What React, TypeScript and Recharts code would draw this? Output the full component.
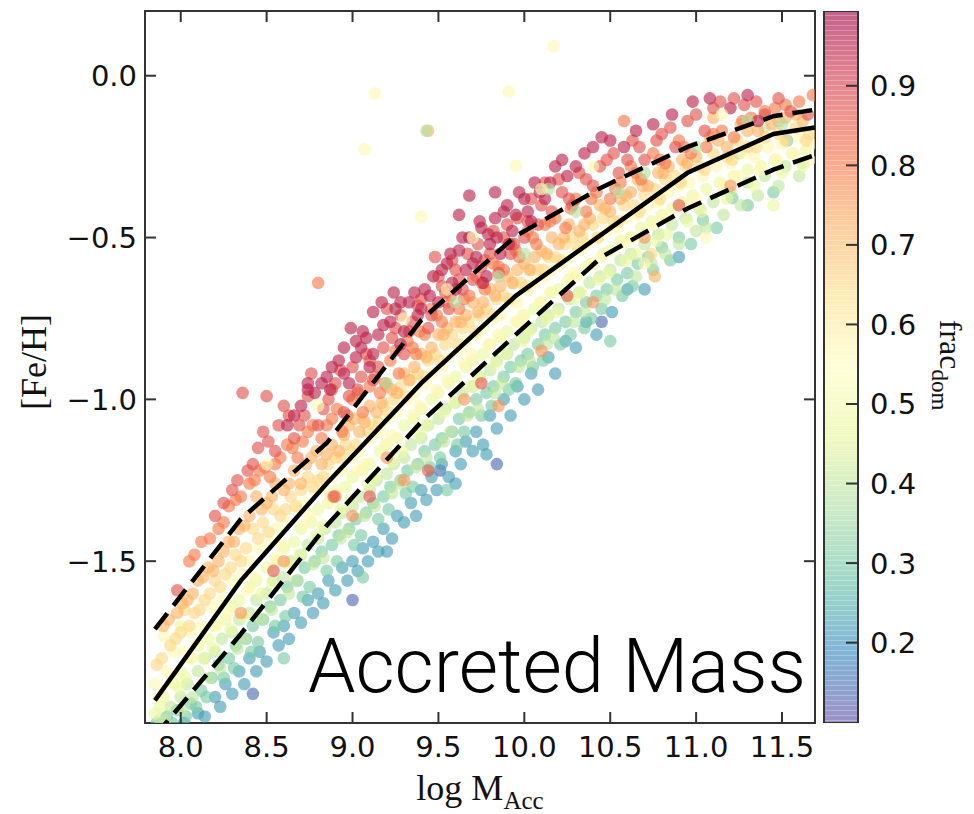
import React from "react";
import { ScatterChart, Scatter, XAxis, YAxis, Label, BarChart, Bar, ReferenceArea } from "recharts";

// axis ranges
const X_MIN = 7.792;
const X_MAX = 11.692;
const Y_MIN = -2.0;
const Y_MAX = 0.2;
const CB_MIN = 0.099;
const CB_MAX = 0.994;

const xTicks = [8.0, 8.5, 9.0, 9.5, 10.0, 10.5, 11.0, 11.5];
const yTicks = [-1.5, -1.0, -0.5, 0.0];
const cbTicks = [0.2, 0.3, 0.4, 0.5, 0.6, 0.7, 0.8, 0.9];

// running median and the two percentile curves
const lineX = [7.85, 8.35, 8.85, 9.4, 9.95, 10.45, 10.95, 11.45, 11.69];
const medianY = [-1.93, -1.56, -1.26, -0.95, -0.68, -0.49, -0.3, -0.18, -0.16];
const upperY = [-1.71, -1.37, -1.135, -0.755, -0.495, -0.345, -0.22, -0.125, -0.105];
const lowerY = [-2.04, -1.725, -1.39, -1.07, -0.8, -0.56, -0.41, -0.29, -0.245];

// scatter points, grouped by fracC_dom level
const purplePts = [[8.42, -1.91], [9.84, -1.2], [9.51, -1.22], [10.45, -0.76], [9.0, -1.62]];
const bluePts = [[8.02, -2.0], [8.1, -1.97], [8.2, -1.92], [8.26, -1.88], [8.34, -1.84], [8.4, -1.8], [8.46, -1.78], [8.54, -1.72], [8.6, -1.7], [8.66, -1.66], [8.74, -1.62], [8.8, -1.6], [8.86, -1.56], [8.94, -1.52], [9.0, -1.5], [9.06, -1.46], [9.12, -1.44], [9.18, -1.4], [9.2, -1.47], [9.26, -1.36], [9.34, -1.32], [9.4, -1.28], [9.46, -1.24], [9.52, -1.2], [9.6, -1.16], [9.66, -1.13], [9.72, -1.1], [9.8, -1.05], [9.88, -1.0], [9.96, -0.96], [10.04, -0.92], [10.14, -0.87], [10.24, -0.82], [10.36, -0.76], [10.6, -0.66], [10.9, -0.56]];
const bluePts2 = [[8.14, -1.98], [8.23, -1.95], [8.3, -1.91], [8.37, -1.88], [8.44, -1.84], [8.5, -1.81], [8.57, -1.76], [8.63, -1.74], [8.7, -1.69], [8.77, -1.66], [8.83, -1.63], [8.9, -1.59], [8.97, -1.56], [9.03, -1.53], [9.09, -1.5], [9.15, -1.47], [9.23, -1.43], [9.3, -1.38], [9.37, -1.36], [9.43, -1.31], [9.49, -1.28], [9.56, -1.24], [9.63, -1.2], [9.7, -1.16], [9.76, -1.14], [9.84, -1.09], [9.92, -1.05], [10.0, -1.0], [10.08, -0.97], [10.18, -0.92], [10.3, -0.84], [10.42, -0.8], [10.51, -0.73], [10.7, -0.66], [9.78, -1.17], [9.6, -1.26]];
const tealPts = [[7.86, -2.0], [7.92, -1.98], [7.98, -1.96], [8.06, -1.94], [8.12, -1.9], [8.18, -1.86], [8.22, -1.82], [8.28, -1.8], [8.32, -1.76], [8.38, -1.74], [8.42, -1.7], [8.48, -1.68], [8.52, -1.64], [8.58, -1.62], [8.62, -1.58], [8.68, -1.56], [8.72, -1.52], [8.78, -1.5], [8.82, -1.47], [8.88, -1.45], [8.92, -1.42], [8.98, -1.4], [9.02, -1.37], [9.08, -1.35], [9.12, -1.32], [9.18, -1.3], [9.22, -1.27], [9.28, -1.25], [9.32, -1.22], [9.38, -1.2], [9.42, -1.16], [9.48, -1.14], [9.52, -1.12], [9.58, -1.1], [9.62, -1.06], [9.68, -1.04], [9.72, -1.0], [9.78, -0.98], [9.82, -0.96], [9.88, -0.93], [9.92, -0.9], [9.98, -0.88], [10.02, -0.86], [10.08, -0.83], [10.12, -0.8], [10.18, -0.78], [10.24, -0.76], [10.3, -0.73], [10.36, -0.7], [10.42, -0.68], [10.48, -0.66], [10.54, -0.63], [10.6, -0.61], [10.66, -0.58], [10.72, -0.56], [10.8, -0.53], [10.9, -0.5], [11.04, -0.445], [11.21, -0.378], [11.53, -0.2], [9.55, -1.28], [9.06, -1.55], [8.6, -1.8]];
const tealPts2 = [[7.95, -2.0], [8.03, -1.98], [8.09, -1.95], [8.15, -1.92], [8.25, -1.86], [8.31, -1.83], [8.41, -1.78], [8.45, -1.75], [8.55, -1.7], [8.61, -1.67], [8.71, -1.61], [8.75, -1.58], [8.85, -1.53], [8.91, -1.5], [9.01, -1.45], [9.05, -1.42], [9.15, -1.37], [9.21, -1.34], [9.31, -1.29], [9.35, -1.27], [9.45, -1.21], [9.51, -1.18], [9.61, -1.14], [9.65, -1.1], [9.75, -1.05], [9.81, -1.02], [9.91, -0.97], [9.95, -0.95], [10.05, -0.9], [10.11, -0.88], [10.21, -0.83], [10.27, -0.8], [10.39, -0.75], [10.45, -0.72], [10.57, -0.68], [10.63, -0.65], [10.75, -0.6], [10.85, -0.57], [10.97, -0.52], [11.12, -0.47], [11.3, -0.4], [11.45, -0.36], [10.5, -0.82], [10.35, -0.78]];
const lightGreenPts = [[7.88, -1.99], [7.94, -1.95], [8.0, -1.92], [8.04, -1.88], [8.1, -1.84], [8.14, -1.8], [8.2, -1.78], [8.24, -1.74], [8.3, -1.72], [8.34, -1.68], [8.4, -1.66], [8.44, -1.62], [8.5, -1.6], [8.54, -1.56], [8.6, -1.55], [8.64, -1.5], [8.7, -1.48], [8.74, -1.45], [8.8, -1.43], [8.84, -1.4], [8.9, -1.38], [8.94, -1.35], [9.0, -1.33], [9.04, -1.3], [9.1, -1.28], [9.14, -1.25], [9.2, -1.23], [9.24, -1.2], [9.3, -1.18], [9.34, -1.14], [9.4, -1.12], [9.44, -1.08], [9.5, -1.06], [9.54, -1.03], [9.6, -1.01], [9.64, -0.98], [9.7, -0.96], [9.74, -0.93], [9.8, -0.91], [9.84, -0.88], [9.9, -0.86], [9.94, -0.83], [10.0, -0.81], [10.04, -0.78], [10.1, -0.76], [10.14, -0.74], [10.2, -0.72], [10.26, -0.69], [10.32, -0.67], [10.38, -0.64], [10.44, -0.62], [10.5, -0.6], [10.56, -0.57], [10.62, -0.55], [10.7, -0.52], [10.78, -0.49], [10.86, -0.46], [10.94, -0.44], [11.02, -0.41], [11.1, -0.39], [11.2, -0.36], [11.3, -0.33], [11.4, -0.31], [11.52, -0.28], [11.62, -0.27], [11.0, -0.48], [11.25, -0.24], [11.4, -0.16]];
const lightGreenPts2 = [[7.91, -1.99], [8.01, -1.96], [8.07, -1.92], [8.17, -1.86], [8.23, -1.83], [8.33, -1.77], [8.37, -1.74], [8.47, -1.68], [8.53, -1.65], [8.63, -1.6], [8.67, -1.56], [8.77, -1.51], [8.83, -1.49], [8.93, -1.43], [8.97, -1.41], [9.07, -1.36], [9.13, -1.33], [9.23, -1.29], [9.27, -1.26], [9.37, -1.21], [9.43, -1.18], [9.53, -1.13], [9.57, -1.1], [9.67, -1.05], [9.73, -1.03], [9.83, -0.98], [9.87, -0.95], [9.97, -0.9], [10.03, -0.88], [10.13, -0.83], [10.17, -0.81], [10.29, -0.76], [10.35, -0.73], [10.47, -0.69], [10.53, -0.66], [10.65, -0.62], [10.74, -0.58], [10.82, -0.55], [10.9, -0.52], [11.06, -0.47], [11.16, -0.43], [11.26, -0.4], [11.36, -0.37], [11.48, -0.34], [11.6, -0.31]];
const yellowGreenPts = [[7.85, -1.97], [7.9, -1.92], [7.96, -1.88], [8.0, -1.84], [8.06, -1.8], [8.1, -1.76], [8.16, -1.74], [8.2, -1.7], [8.26, -1.68], [8.3, -1.64], [8.34, -1.62], [8.4, -1.58], [8.44, -1.56], [8.5, -1.52], [8.56, -1.5], [8.6, -1.46], [8.66, -1.44], [8.7, -1.4], [8.76, -1.38], [8.8, -1.34], [8.86, -1.32], [8.9, -1.3], [8.96, -1.27], [9.0, -1.24], [9.06, -1.22], [9.1, -1.2], [9.16, -1.16], [9.2, -1.14], [9.26, -1.12], [9.3, -1.08], [9.36, -1.06], [9.4, -1.03], [9.46, -1.0], [9.5, -0.98], [9.56, -0.95], [9.6, -0.93], [9.66, -0.9], [9.7, -0.88], [9.76, -0.86], [9.8, -0.83], [9.86, -0.81], [9.9, -0.79], [9.96, -0.76], [10.0, -0.74], [10.06, -0.72], [10.1, -0.7], [10.16, -0.67], [10.2, -0.66], [10.26, -0.63], [10.3, -0.62], [10.36, -0.59], [10.4, -0.58], [10.46, -0.55], [10.5, -0.54], [10.56, -0.51], [10.62, -0.5], [10.68, -0.47], [10.74, -0.45], [10.8, -0.43], [10.86, -0.41], [10.92, -0.39], [10.98, -0.37], [11.06, -0.35], [11.14, -0.33], [11.22, -0.31], [11.3, -0.29], [11.38, -0.28], [11.46, -0.26], [11.56, -0.24], [11.64, -0.23], [11.45, -0.4], [8.0, -1.7]];
const yellowGreenPts2 = [[7.88, -1.95], [7.99, -1.89], [8.03, -1.86], [8.13, -1.8], [8.19, -1.77], [8.29, -1.71], [8.37, -1.67], [8.47, -1.6], [8.53, -1.57], [8.63, -1.51], [8.69, -1.48], [8.79, -1.42], [8.83, -1.39], [8.93, -1.34], [8.99, -1.31], [9.09, -1.26], [9.13, -1.24], [9.23, -1.19], [9.29, -1.16], [9.39, -1.11], [9.43, -1.08], [9.53, -1.04], [9.59, -1.01], [9.69, -0.96], [9.73, -0.93], [9.83, -0.89], [9.89, -0.86], [9.99, -0.82], [10.03, -0.79], [10.13, -0.75], [10.19, -0.73], [10.29, -0.69], [10.33, -0.67], [10.43, -0.63], [10.49, -0.61], [10.59, -0.57], [10.65, -0.55], [10.77, -0.51], [10.83, -0.49], [10.95, -0.45], [11.03, -0.42], [11.18, -0.38], [11.34, -0.34], [11.5, -0.3], [11.62, -0.28]];
const paleYellowPts = [[7.85, -1.88], [7.92, -1.84], [7.96, -1.78], [8.02, -1.78], [8.06, -1.72], [8.12, -1.7], [8.18, -1.64], [8.24, -1.62], [8.3, -1.56], [8.36, -1.54], [8.4, -1.5], [8.46, -1.46], [8.52, -1.44], [8.56, -1.4], [8.62, -1.38], [8.68, -1.34], [8.72, -1.32], [8.78, -1.28], [8.84, -1.28], [8.88, -1.24], [8.94, -1.22], [9.0, -1.18], [9.04, -1.16], [9.1, -1.12], [9.16, -1.1], [9.2, -1.06], [9.26, -1.04], [9.32, -1.0], [9.36, -0.98], [9.42, -0.95], [9.46, -0.92], [9.52, -0.9], [9.56, -0.87], [9.62, -0.85], [9.66, -0.82], [9.72, -0.8], [9.76, -0.78], [9.82, -0.75], [9.86, -0.74], [9.92, -0.7], [9.96, -0.7], [10.02, -0.66], [10.06, -0.64], [10.12, -0.62], [10.16, -0.6], [10.22, -0.58], [10.26, -0.56], [10.32, -0.54], [10.36, -0.52], [10.42, -0.5], [10.48, -0.48], [10.54, -0.47], [10.6, -0.44], [10.66, -0.43], [10.72, -0.4], [10.78, -0.39], [10.84, -0.36], [10.9, -0.34], [10.96, -0.33], [11.04, -0.31], [11.12, -0.28], [11.2, -0.27], [11.28, -0.24], [11.34, -0.25], [11.42, -0.22], [11.5, -0.21], [11.6, -0.19], [11.67, -0.21], [9.13, -0.055], [9.07, -0.227], [10.17, 0.091], [9.91, -0.05], [9.4, -0.435], [9.95, -0.278], [11.06, -0.5], [10.7, -0.58], [7.9, -1.73]];
const paleYellowPts2 = [[7.87, -1.92], [7.95, -1.86], [8.05, -1.8], [8.09, -1.76], [8.21, -1.7], [8.27, -1.66], [8.39, -1.59], [8.43, -1.55], [8.55, -1.49], [8.59, -1.45], [8.71, -1.39], [8.75, -1.36], [8.87, -1.31], [8.91, -1.28], [9.03, -1.22], [9.07, -1.2], [9.19, -1.14], [9.23, -1.11], [9.35, -1.05], [9.39, -1.02], [9.49, -0.97], [9.55, -0.94], [9.65, -0.89], [9.69, -0.86], [9.79, -0.83], [9.85, -0.8], [9.95, -0.76], [9.99, -0.74], [10.09, -0.7], [10.15, -0.67], [10.25, -0.64], [10.29, -0.61], [10.39, -0.58], [10.45, -0.56], [10.57, -0.52], [10.63, -0.5], [10.75, -0.46], [10.81, -0.44], [10.93, -0.4], [11.0, -0.38], [11.15, -0.34], [11.25, -0.31], [11.37, -0.29], [11.47, -0.26], [11.57, -0.24], [11.66, -0.26]];
const lightOrangePts = [[7.86, -1.82], [7.94, -1.76], [8.0, -1.72], [8.08, -1.66], [8.14, -1.62], [8.2, -1.56], [8.26, -1.54], [8.32, -1.48], [8.38, -1.46], [8.42, -1.4], [8.48, -1.38], [8.54, -1.34], [8.58, -1.36], [8.64, -1.3], [8.7, -1.28], [8.74, -1.24], [8.8, -1.25], [8.86, -1.2], [8.9, -1.18], [8.96, -1.14], [9.02, -1.14], [9.06, -1.06], [9.12, -1.08], [9.18, -1.02], [9.24, -1.0], [9.28, -0.96], [9.34, -0.94], [9.38, -0.92], [9.44, -0.88], [9.48, -0.86], [9.54, -0.83], [9.58, -0.8], [9.64, -0.78], [9.68, -0.76], [9.74, -0.74], [9.78, -0.72], [9.84, -0.69], [9.88, -0.68], [9.94, -0.64], [9.98, -0.64], [10.04, -0.6], [10.08, -0.6], [10.14, -0.56], [10.18, -0.56], [10.24, -0.52], [10.28, -0.5], [10.34, -0.5], [10.4, -0.46], [10.46, -0.44], [10.52, -0.45], [10.58, -0.4], [10.64, -0.4], [10.7, -0.37], [10.76, -0.35], [10.82, -0.32], [10.88, -0.31], [10.94, -0.28], [11.02, -0.28], [11.1, -0.24], [11.18, -0.25], [11.24, -0.2], [11.3, -0.22], [11.4, -0.19], [11.48, -0.18], [11.58, -0.16], [11.66, -0.18], [10.74, -0.55], [8.02, -1.65]];
const lightOrangePts2 = [[7.89, -1.8], [7.97, -1.74], [8.05, -1.7], [8.11, -1.65], [8.17, -1.6], [8.23, -1.58], [8.29, -1.52], [8.35, -1.5], [8.45, -1.43], [8.51, -1.41], [8.61, -1.34], [8.67, -1.33], [8.77, -1.27], [8.83, -1.24], [8.93, -1.18], [8.99, -1.16], [9.09, -1.1], [9.15, -1.07], [9.21, -1.04], [9.31, -0.99], [9.41, -0.93], [9.51, -0.88], [9.61, -0.83], [9.71, -0.79], [9.81, -0.74], [9.91, -0.69], [10.01, -0.65], [10.11, -0.6], [10.21, -0.57], [10.31, -0.53], [10.43, -0.5], [10.55, -0.45], [10.67, -0.42], [10.79, -0.38], [10.91, -0.33], [11.05, -0.29], [11.21, -0.26], [11.35, -0.22], [11.52, -0.2], [11.64, -0.2]];
const orangePts = [[7.9, -1.7], [7.98, -1.66], [8.04, -1.62], [8.1, -1.56], [8.16, -1.52], [8.22, -1.5], [8.28, -1.44], [8.34, -1.4], [8.4, -1.36], [8.44, -1.3], [8.5, -1.32], [8.55, -1.26], [8.6, -1.28], [8.66, -1.22], [8.7, -1.26], [8.76, -1.18], [8.82, -1.2], [8.88, -1.14], [8.92, -1.16], [8.98, -1.08], [9.04, -1.1], [9.1, -1.02], [9.14, -1.04], [9.2, -0.96], [9.26, -0.98], [9.3, -0.92], [9.36, -0.9], [9.4, -0.86], [9.46, -0.84], [9.5, -0.8], [9.55, -0.78], [9.6, -0.76], [9.66, -0.74], [9.7, -0.7], [9.76, -0.7], [9.8, -0.66], [9.86, -0.65], [9.9, -0.62], [9.96, -0.6], [10.0, -0.58], [10.06, -0.56], [10.1, -0.54], [10.16, -0.5], [10.2, -0.52], [10.26, -0.46], [10.32, -0.48], [10.38, -0.44], [10.44, -0.4], [10.5, -0.42], [10.56, -0.38], [10.62, -0.36], [10.66, -0.32], [10.72, -0.34], [10.78, -0.3], [10.84, -0.28], [10.92, -0.26], [11.0, -0.25], [11.08, -0.19], [11.18, -0.22], [11.26, -0.15], [11.36, -0.17], [11.44, -0.15], [11.52, -0.13], [11.62, -0.14], [11.1, -0.13], [10.76, -0.62], [9.44, -0.17]];
const orangePts2 = [[7.93, -1.68], [8.01, -1.63], [8.07, -1.6], [8.13, -1.55], [8.19, -1.53], [8.25, -1.47], [8.31, -1.44], [8.37, -1.39], [8.47, -1.34], [8.53, -1.3], [8.63, -1.26], [8.73, -1.2], [8.79, -1.16], [8.85, -1.17], [8.95, -1.11], [9.01, -1.06], [9.07, -1.07], [9.17, -1.01], [9.23, -0.97], [9.33, -0.94], [9.43, -0.87], [9.53, -0.8], [9.63, -0.76], [9.73, -0.73], [9.83, -0.68], [9.93, -0.64], [10.03, -0.6], [10.13, -0.55], [10.23, -0.5], [10.35, -0.46], [10.47, -0.41], [10.59, -0.37], [10.69, -0.34], [10.81, -0.3], [10.95, -0.27], [11.13, -0.2], [11.3, -0.17], [11.48, -0.14], [11.58, -0.12]];
const redOrangePts = [[8.05, -1.5], [8.12, -1.44], [8.22, -1.4], [8.28, -1.33], [8.35, -1.3], [8.4, -1.26], [8.46, -1.22], [8.52, -1.24], [8.58, -1.18], [8.62, -1.14], [8.68, -1.18], [8.74, -1.1], [8.8, -0.64], [8.82, -1.12], [8.88, -1.06], [8.94, -1.1], [9.0, -1.0], [9.06, -1.04], [9.1, -0.96], [9.16, -0.98], [9.22, -0.88], [9.27, -0.92], [9.32, -0.82], [9.37, -0.86], [9.42, -0.8], [9.46, -0.72], [9.52, -0.76], [9.57, -0.68], [9.62, -0.72], [9.68, -0.68], [9.72, -0.62], [9.77, -0.66], [9.82, -0.58], [9.88, -0.6], [9.92, -0.52], [9.97, -0.56], [10.02, -0.48], [10.07, -0.52], [10.12, -0.46], [10.18, -0.44], [10.24, -0.47], [10.3, -0.38], [10.36, -0.42], [10.42, -0.36], [10.5, -0.38], [10.56, -0.33], [10.62, -0.28], [10.68, -0.32], [10.75, -0.24], [10.82, -0.27], [10.9, -0.2], [10.97, -0.24], [11.06, -0.22], [11.15, -0.17], [11.22, -0.19], [11.32, -0.13], [11.46, -0.1], [11.6, -0.08], [11.68, -0.06], [10.58, -0.14]];
const redOrangePts2 = [[8.08, -1.48], [8.17, -1.43], [8.25, -1.38], [8.32, -1.31], [8.43, -1.25], [8.49, -1.21], [8.55, -1.2], [8.65, -1.15], [8.71, -1.13], [8.77, -1.08], [8.85, -1.08], [8.91, -1.03], [8.97, -1.05], [9.03, -0.98], [9.13, -0.93], [9.19, -0.95], [9.25, -0.85], [9.35, -0.84], [9.39, -0.79], [9.49, -0.74], [9.55, -0.7], [9.65, -0.69], [9.75, -0.64], [9.85, -0.59], [9.95, -0.54], [10.05, -0.5], [10.15, -0.45], [10.27, -0.41], [10.39, -0.38], [10.53, -0.35], [10.65, -0.3], [10.79, -0.26], [10.93, -0.22], [11.1, -0.18], [11.27, -0.14], [11.4, -0.11], [11.52, -0.09]];
const redPts = [[8.2, -1.36], [8.3, -1.28], [8.36, -0.98], [8.42, -1.2], [8.48, -1.1], [8.55, -1.16], [8.6, -1.02], [8.66, -1.12], [8.72, -1.05], [8.76, -0.92], [8.8, -1.08], [8.86, -1.0], [8.9, -0.95], [8.95, -1.04], [9.0, -0.9], [9.03, -0.97], [9.08, -0.86], [9.12, -0.94], [9.18, -0.84], [9.2, -0.72], [9.25, -0.78], [9.3, -0.86], [9.35, -0.76], [9.4, -0.69], [9.44, -0.78], [9.48, -0.56], [9.52, -0.65], [9.56, -0.72], [9.6, -0.6], [9.64, -0.66], [9.7, -0.63], [9.73, -0.52], [9.77, -0.57], [9.82, -0.48], [9.85, -0.61], [9.88, -0.5], [9.92, -0.55], [9.96, -0.44], [10.0, -0.5], [10.04, -0.38], [10.08, -0.46], [10.12, -0.33], [10.16, -0.42], [10.22, -0.36], [10.28, -0.4], [10.32, -0.3], [10.4, -0.34], [10.48, -0.26], [10.55, -0.3], [10.63, -0.2], [10.7, -0.26], [10.8, -0.18], [10.88, -0.22], [10.95, -0.14], [11.05, -0.17], [11.14, -0.08], [11.28, -0.09], [11.4, -0.12], [11.55, -0.11], [11.65, -0.12], [7.98, -1.59], [8.5, -0.99]];
const redPts2 = [[8.25, -1.32], [8.33, -1.25], [8.39, -1.22], [8.45, -1.15], [8.51, -1.13], [8.57, -1.08], [8.63, -1.05], [8.69, -1.08], [8.74, -0.99], [8.83, -1.03], [8.88, -0.97], [8.93, -0.91], [8.98, -0.99], [9.05, -0.93], [9.1, -0.88], [9.15, -0.9], [9.23, -0.81], [9.28, -0.74], [9.33, -0.79], [9.38, -0.71], [9.46, -0.74], [9.5, -0.62], [9.54, -0.67], [9.58, -0.57], [9.62, -0.63], [9.67, -0.55], [9.75, -0.59], [9.8, -0.55], [9.9, -0.46], [9.94, -0.52], [10.02, -0.45], [10.1, -0.4], [10.2, -0.32], [10.26, -0.38], [10.36, -0.32], [10.44, -0.28], [10.52, -0.24], [10.6, -0.26], [10.67, -0.22], [10.77, -0.2], [10.85, -0.16], [11.0, -0.12], [11.1, -0.1], [11.22, -0.07], [11.35, -0.08], [11.48, -0.07]];
const magentaPts = [[8.62, -1.08], [8.7, -1.02], [8.78, -0.98], [8.85, -0.93], [8.92, -0.88], [8.98, -0.95], [9.05, -0.84], [9.1, -0.9], [9.15, -0.8], [9.22, -0.76], [9.28, -0.83], [9.33, -0.7], [9.38, -0.74], [9.42, -0.66], [9.47, -0.62], [9.5, -0.7], [9.55, -0.58], [9.58, -0.64], [9.62, -0.54], [9.66, -0.6], [9.68, -0.5], [9.72, -0.56], [9.75, -0.47], [9.78, -0.62], [9.8, -0.52], [9.83, -0.44], [9.86, -0.55], [9.9, -0.4], [9.93, -0.48], [9.97, -0.36], [10.02, -0.42], [10.06, -0.33], [10.12, -0.38], [10.18, -0.28], [10.25, -0.31], [10.35, -0.24], [10.45, -0.19], [10.58, -0.22], [10.75, -0.15], [10.98, -0.08], [11.2, -0.1], [11.36, -0.14], [9.68, -0.37], [9.83, -0.36], [9.62, -0.43]];
const magentaPts2 = [[8.66, -1.05], [8.74, -0.97], [8.82, -0.95], [8.88, -0.9], [8.95, -0.92], [9.02, -0.87], [9.08, -0.81], [9.12, -0.86], [9.18, -0.77], [9.25, -0.72], [9.3, -0.79], [9.36, -0.67], [9.4, -0.72], [9.45, -0.68], [9.52, -0.6], [9.57, -0.55], [9.6, -0.66], [9.64, -0.5], [9.7, -0.58], [9.74, -0.45], [9.76, -0.64], [9.79, -0.49], [9.84, -0.5], [9.88, -0.42], [9.91, -0.52], [9.95, -0.43], [10.0, -0.38], [10.04, -0.45], [10.09, -0.36], [10.15, -0.33], [10.22, -0.26], [10.3, -0.28], [10.4, -0.22], [10.5, -0.2], [10.65, -0.17], [10.86, -0.12], [11.08, -0.07], [11.3, -0.06]];
// high red points on the upper edge of the cloud
const magentaPts3 = [[9.24, -0.67], [9.12, -0.73], [8.99, -0.78], [9.06, -0.79], [8.95, -0.84], [9.28, -0.7], [8.87, -0.97], [8.74, -0.95], [9.17, -0.7], [9.02, -0.82]];
// off-trend points that break up the colour layering
const mixedOrangePts = [[8.9, -1.3], [9.0, -1.36], [9.3, -1.25], [9.65, -1.0], [10.1, -0.85], [10.4, -0.7], [8.6, -1.5], [8.35, -1.66], [9.85, -1.02], [10.7, -0.5], [11.2, -0.34], [9.2, -1.18]];
const mixedRedPts = [[8.54, -1.53], [9.44, -1.22], [9.1, -1.3], [9.75, -0.95], [10.25, -0.68], [8.89, -1.3], [10.9, -0.4]];
const mixedGreenPts = [[9.2, -0.95], [9.6, -0.7], [10.0, -0.55], [10.3, -0.42], [10.7, -0.3], [11.0, -0.22], [11.3, -0.14], [10.14, -0.35], [9.43, -0.17], [9.85, -0.62], [10.55, -0.36], [11.5, -0.15]];
const mixedYellowPts = [[9.3, -0.75], [9.7, -0.5], [10.1, -0.35], [8.8, -1.02], [8.5, -1.2], [9.55, -0.66], [10.4, -0.28], [11.15, -0.12]];

const groups = [
  { name: "purple", c: 0.14, pts: purplePts },
  { name: "blue", c: 0.22, pts: [...bluePts, ...bluePts2] },
  { name: "teal", c: 0.3, pts: [...tealPts, ...tealPts2] },
  { name: "lightGreen", c: 0.4, pts: [...lightGreenPts, ...lightGreenPts2] },
  { name: "yellowGreen", c: 0.48, pts: [...yellowGreenPts, ...yellowGreenPts2] },
  { name: "paleYellow", c: 0.57, pts: [...paleYellowPts, ...paleYellowPts2] },
  { name: "lightOrange", c: 0.65, pts: [...lightOrangePts, ...lightOrangePts2] },
  { name: "orange", c: 0.72, pts: [...orangePts, ...orangePts2] },
  { name: "redOrange", c: 0.8, pts: [...redOrangePts, ...redOrangePts2] },
  { name: "mixedOrange", c: 0.76, pts: mixedOrangePts },
  { name: "mixedRed", c: 0.86, pts: mixedRedPts },
  { name: "red", c: 0.87, pts: [...redPts, ...redPts2] },
  { name: "magenta", c: 0.95, pts: [...magentaPts, ...magentaPts2, ...magentaPts3] },
  { name: "mixedGreen", c: 0.38, pts: mixedGreenPts },
  { name: "mixedYellow", c: 0.56, pts: mixedYellowPts },
];

const spectral = ["#9e0142", "#d53e4f", "#f46d43", "#fdae61", "#fee08b", "#ffffbf", "#e6f598", "#abdda4", "#66c2a5", "#3288bd", "#5e4fa2"];

function hexToRgb(h: string) {
  return [parseInt(h.slice(1, 3), 16), parseInt(h.slice(3, 5), 16), parseInt(h.slice(5, 7), 16)];
}

// reversed Spectral, normalised to the colour bar range
function fracColor(c: number) {
  const t = Math.max(0, Math.min(1, 1 - (c - CB_MIN) / (CB_MAX - CB_MIN))) * 10;
  const i = Math.min(9, Math.floor(t));
  const f = t - i;
  const a = hexToRgb(spectral[i]);
  const b = hexToRgb(spectral[i + 1]);
  const rgb = a.map((v, k) => Math.round(v + (b[k] - v) * f));
  return `rgb(${rgb[0]},${rgb[1]},${rgb[2]})`;
}

const toXY = (xs: number[], ys: number[]) => xs.map((x, i) => ({ x, y: ys[i] }));
const pairsToXY = (pts: number[][]) => pts.map(([x, y]) => ({ x, y }));

const fmtX = (v: number) => v.toFixed(1);
const fmtY = (v: number) => (v < 0 ? "\u2212" + Math.abs(v).toFixed(1) : v.toFixed(1));

// plot box in page pixels
const PLOT_L = 145;
const PLOT_R = 815;
const PLOT_T = 11;
const PLOT_B = 723;
const TICK = 11;
const INK = "#333";
const tickFont = { fill: "#111", fontSize: 29, fontFamily: "DejaVu Sans" };
const labelFont = "Liberation Serif";

const noDot = () => <g />;

function dotShape(color: string) {
  return (p: any) => <circle cx={p.cx} cy={p.cy} r={6.3} fill={color} fillOpacity={0.62} />;
}

// inward ticks on bottom and top, label under the axis
function XTick(p: any) {
  const x = p.x;
  return (
    <g>
      <line x1={x} x2={x} y1={PLOT_B} y2={PLOT_B - TICK} stroke={INK} strokeWidth={2} />
      <line x1={x} x2={x} y1={PLOT_T} y2={PLOT_T + TICK} stroke={INK} strokeWidth={2} />
      <text x={x} y={757} textAnchor="middle" {...tickFont}>{fmtX(p.payload.value)}</text>
    </g>
  );
}

// inward ticks on left and right
function YTick(p: any) {
  const y = p.y;
  return (
    <g>
      <line x1={PLOT_L} x2={PLOT_L + TICK} y1={y} y2={y} stroke={INK} strokeWidth={2} />
      <line x1={PLOT_R} x2={PLOT_R - TICK} y1={y} y2={y} stroke={INK} strokeWidth={2} />
      <text x={137} y={y} dy="0.36em" textAnchor="end" {...tickFont}>{fmtY(p.payload.value)}</text>
    </g>
  );
}

// colour bar ticks, local to the colour bar chart
const CB_R = 43;
function CbTick(p: any) {
  const y = p.y;
  return (
    <g>
      <line x1={CB_R} x2={CB_R - 12} y1={y} y2={y} stroke={INK} strokeWidth={2} />
      <text x={55} y={y} dy="0.36em" textAnchor="start" {...tickFont}>{fmtX(p.payload.value)}</text>
    </g>
  );
}

function CbShape(p: any) {
  return (
    <g>
      <rect x={p.x} y={p.y} width={p.width} height={p.height} fill="url(#cbGrad)" />
      <rect x={p.x} y={p.y} width={p.width} height={p.height} fill="url(#cbStripes)" />
      <rect x={p.x} y={p.y} width={p.width} height={p.height} fill="none" stroke={INK} strokeWidth={2} />
    </g>
  );
}

export default function App() {
  return (
    <div style={{ position: "fixed", left: 0, top: 0, width: 974, height: 814, overflow: "hidden", background: "#fff" }}>
      <div style={{ position: "absolute", left: 0, top: 0 }}>
        <ScatterChart width={830} height={814} margin={{ top: PLOT_T, right: 830 - PLOT_R, bottom: 0, left: 0 }}>
          <XAxis
            type="number"
            dataKey="x"
            domain={[X_MIN, X_MAX]}
            allowDataOverflow
            ticks={xTicks}
            interval={0}
            height={814 - PLOT_B}
            axisLine={false}
            tickLine={false}
            tick={XTick}
          >
            <Label
              content={() => (
                <g>
                  <text x={480} y={800} textAnchor="middle" fontFamily={labelFont} fontSize={36} fill="#111">
                    log M<tspan fontSize={25} dy={9}>Acc</tspan>
                  </text>
                  <text x={806} y={692} textAnchor="end" fontFamily="Roboto" fontWeight={300} fontSize={76} fill="#000">
                    Accreted Mass
                  </text>
                </g>
              )}
            />
          </XAxis>
          <YAxis
            type="number"
            dataKey="y"
            domain={[Y_MIN, Y_MAX]}
            allowDataOverflow
            ticks={yTicks}
            interval={0}
            width={PLOT_L}
            axisLine={false}
            tickLine={false}
            tick={YTick}
          >
            <Label
              content={() => (
                <text transform="translate(46,362) rotate(-90)" textAnchor="middle" fontFamily={labelFont} fontSize={36} fill="#111">
                  [Fe/H]
                </text>
              )}
            />
          </YAxis>
          {groups.map((g) => (
            <Scatter
              key={g.name}
              name={g.name}
              data={pairsToXY(g.pts)}
              shape={dotShape(fracColor(g.c))}
              isAnimationActive={false}
            />
          ))}
          <Scatter data={toXY(lineX, upperY)} line={{ stroke: "#000", strokeWidth: 4.5, strokeDasharray: "20 10" }} shape={noDot} isAnimationActive={false} />
          <Scatter data={toXY(lineX, lowerY)} line={{ stroke: "#000", strokeWidth: 4.5, strokeDasharray: "20 10" }} shape={noDot} isAnimationActive={false} />
          <Scatter data={toXY(lineX, medianY)} line={{ stroke: "#000", strokeWidth: 4.5 }} shape={noDot} isAnimationActive={false} />
          <ReferenceArea x1={X_MIN} x2={X_MAX} y1={Y_MIN} y2={Y_MAX} fill="none" fillOpacity={0} stroke={INK} strokeWidth={2} ifOverflow="visible" />
        </ScatterChart>
      </div>
      <div style={{ position: "absolute", left: 815, top: 0 }}>
        <BarChart
          width={159}
          height={814}
          data={[{ k: "cb", range: [CB_MIN, CB_MAX] }]}
          margin={{ top: PLOT_T, right: 6, bottom: 814 - PLOT_B, left: 9 }}
          barCategoryGap={0}
        >
          <defs>
            <linearGradient id="cbGrad" x1="0" y1="1" x2="0" y2="0">
              {spectral.map((col, i) => (
                <stop key={i} offset={i / 10} stopColor={spectral[10 - i]} stopOpacity={0.62} />
              ))}
            </linearGradient>
            <pattern id="cbStripes" width="6" height="5" patternUnits="userSpaceOnUse">
              <rect x="0" y="0" width="6" height="1" fill="#fff" fillOpacity={0.25} />
            </pattern>
          </defs>
          <XAxis dataKey="k" hide />
          <Bar dataKey="range" shape={CbShape} isAnimationActive={false} />
          <YAxis
            orientation="right"
            type="number"
            domain={[CB_MIN, CB_MAX]}
            allowDataOverflow
            ticks={cbTicks}
            interval={0}
            width={110}
            axisLine={false}
            tickLine={false}
            tick={CbTick}
          >
            <Label
              content={() => (
                <text transform="translate(125,365) rotate(90)" textAnchor="middle" fontFamily={labelFont} fontSize={32} fill="#111">
                  frac<tspan fontSize={23} dy={8}>dom</tspan>
                </text>
              )}
            />
          </YAxis>
        </BarChart>
      </div>
    </div>
  );
}
